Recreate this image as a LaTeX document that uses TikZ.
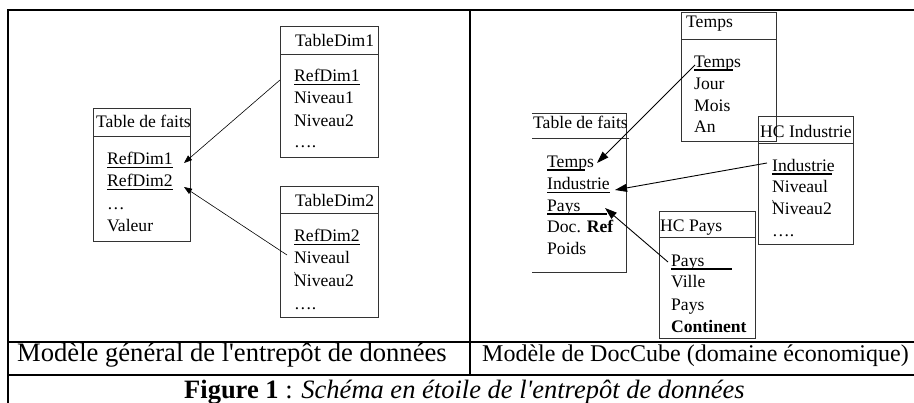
\documentclass[tikz,border=0pt]{standalone}
\usepackage{fontspec}
\setmainfont{Liberation Serif}[Ligatures=TeXOff]
\usetikzlibrary{arrows.meta}
\begin{document}
\begin{tikzpicture}[x=1pt,y=-1pt,
  frame/.style={line width=1.8pt, draw=black},
  tbl/.style={draw=black!80, line width=0.9pt, inner sep=0pt},
  div/.style={draw=black!80, line width=0.9pt},
  txt/.style={inner sep=0pt, anchor=base west, font=\fontsize{17.6}{20}\selectfont},
  ul/.style={line width=0.8pt},
  thickul/.style={line width=1.8pt},
  tickmark/.style={line width=0.6pt},
  arrL/.style={-{Triangle[length=8pt,width=6pt]}, line width=0.6pt},
  arrR/.style={-{Triangle[length=12pt,width=8pt]}, line width=0.9pt},
  captxt/.style={inner sep=0pt, anchor=base west},
]
\useasboundingbox (0,0) rectangle (914,403);
% frame
\draw[frame] (8,403) -- (8,10) -- (914,10);
\draw[frame] (8,342) -- (914,342);
\draw[frame] (8,375) -- (914,375);
\draw[frame] (470,10) -- (470,375);

% ---------- left panel ----------
\node[tbl, anchor=north west, minimum width=97pt, minimum height=133pt] (tfL) at (93,108) {};
\draw[div] (93,136) -- (190,136);
\node[tbl, anchor=north west, minimum width=98pt, minimum height=131pt] (td1) at (280,26) {};
\draw[div] (280,54) -- (378,54);
\node[tbl, anchor=north west, minimum width=98pt, minimum height=131pt] (td2) at (280,186) {};
\draw[div] (280,213) -- (378,213);

\node[txt] (tfLt) at (96,128) {Table de faits};
\node[txt] (l1) at (107,165) {RefDim1};
\node[txt] (l2) at (107,187) {RefDim2};
\node[txt] (l3) at (107,210) {…};
\node[txt] (l4) at (107,232) {Valeur};
\draw[ul] ([yshift=-2pt]l1.base west) -- ([yshift=-2pt]l1.base east);
\draw[ul] ([yshift=-2pt]l2.base west) -- ([yshift=-2pt]l2.base east);

\node[txt] (td1t) at (295,47) {TableDim1};
\node[txt] (d1a) at (294,82) {RefDim1};
\node[txt] (d1b) at (294,104) {Niveau1};
\node[txt] (d1c) at (294,127) {Niveau2};
\node[txt] (d1d) at (294,148) {….};
\draw[ul] ([yshift=-2pt]d1a.base west) -- ([yshift=-2pt]d1a.base east);

\node[txt] (td2t) at (295,207) {TableDim2};
\node[txt] (d2a) at (294,242) {RefDim2};
\node[txt] (d2b) at (294,264) {Niveaul};
\node[txt] (d2c) at (294,287) {Niveau2};
\node[txt] (d2d) at (294,310) {….};
\draw[ul] ([yshift=-2pt]d2a.base west) -- ([yshift=-2pt]d2a.base east);
\draw[tickmark] (294.5,272) -- (296.5,276.5);

\coordinate (a1s) at (280,80);
\coordinate (a1e) at (184,163);
\coordinate (a2s) at (287,255);
\coordinate (a2e) at (184,187);
\draw[arrL] (a1s) -- (a1e);
\draw[arrL] (a2s) -- (a2e);

% ---------- right panel ----------
\node[tbl, anchor=north west, minimum width=95pt, minimum height=129pt] (tps) at (681,12) {};
\draw[div] (681,39) -- (776,39);
\node[tbl, anchor=north west, minimum width=95pt, minimum height=128pt] (hci) at (758,116) {};
\draw[div] (758,143) -- (853,143);
\node[tbl, anchor=north west, minimum width=96pt, minimum height=127pt] (hcp) at (659,211) {};
\draw[div] (659,237) -- (755,237);
\node[inner sep=0pt, anchor=north west, minimum width=94pt, minimum height=159pt] (tfR) at (532,113) {};
\draw[div] (tfR.north west) -- (tfR.north east) -- (tfR.south east) -- (tfR.south west);
\draw[div] (532,138) -- (629,138);

\node[txt] (tpst) at (686,28) {Temps};
\node[txt] (t1) at (694,68) {Temps};
\node[txt] (t2) at (694,90) {Jour};
\node[txt] (t3) at (694,112) {Mois};
\node[txt] (t4) at (694,133) {An};
\draw[thickul] ([yshift=-2pt]t1.base west) -- ++(39,0);

\node[txt] (hcit) at (760,138) {HC Industrie};
\node[txt] (i1) at (772,172) {Industrie};
\node[txt] (i2) at (772,193) {Niveaul};
\node[txt] (i3) at (772,215) {Niveau2};
\node[txt] (i4) at (772,237) {….};
\draw[thickul] ([yshift=-2pt]i1.base west) -- ++(60,0);
\draw[tickmark] (772.5,200) -- (774.5,204.5);

\node[txt] (tfRt) at (533,129) {Table de faits};
\node[txt] (r1) at (547,168) {Temps};
\node[txt] (r2) at (547,190) {Industrie};
\node[txt] (r3) at (547,212) {Pays};
\node[txt] (r4) at (547,233) {Doc. \textbf{Ref}};
\node[txt] (r5) at (547,255) {Poids};
\draw[thickul] ([yshift=-2pt]r1.base west) -- ++(38,0);
\draw[ul] ([yshift=-2pt]r2.base west) -- ([yshift=-2pt]r2.base east);
\draw[thickul] ([yshift=-2pt]r3.base west) -- ++(60,0);

\node[txt] (hcpt) at (660,232) {HC Pays};
\node[txt] (p1) at (671,267) {Pays};
\node[txt] (p2) at (671,288) {Ville};
\node[txt] (p3) at (671,311) {Pays};
\node[txt] (p4) at (671,333) {\textbf{Continent}};
\draw[line width=1.2pt] ([yshift=-2pt]p1.base west) -- ++(61,0);

\coordinate (a3s) at (695,65);
\coordinate (a3e) at (597,163);
\coordinate (a4s) at (767,163);
\coordinate (a4e) at (615,190);
\coordinate (a5s) at (668,262);
\coordinate (a5e) at (605,208);
\draw[arrR] (a3s) -- (a3e);
\draw[arrR] (a4s) -- (a4e);
\draw[arrR] (a5s) -- (a5e);

% ---------- captions ----------
\node[captxt, font=\fontsize{26.6}{30}\selectfont] (capL) at (17,362) {Modèle général de l'entrepôt de données};
\node[captxt, font=\fontsize{24}{28}\selectfont] (capR) at (482,362) {Modèle de DocCube (domaine économique)};
\node[captxt, font=\fontsize{26.5}{30}\selectfont] (fig) at (184,399) {\textbf{Figure 1} : \textit{Schéma en étoile de l'entrepôt de données}};
\end{tikzpicture}
\end{document}
